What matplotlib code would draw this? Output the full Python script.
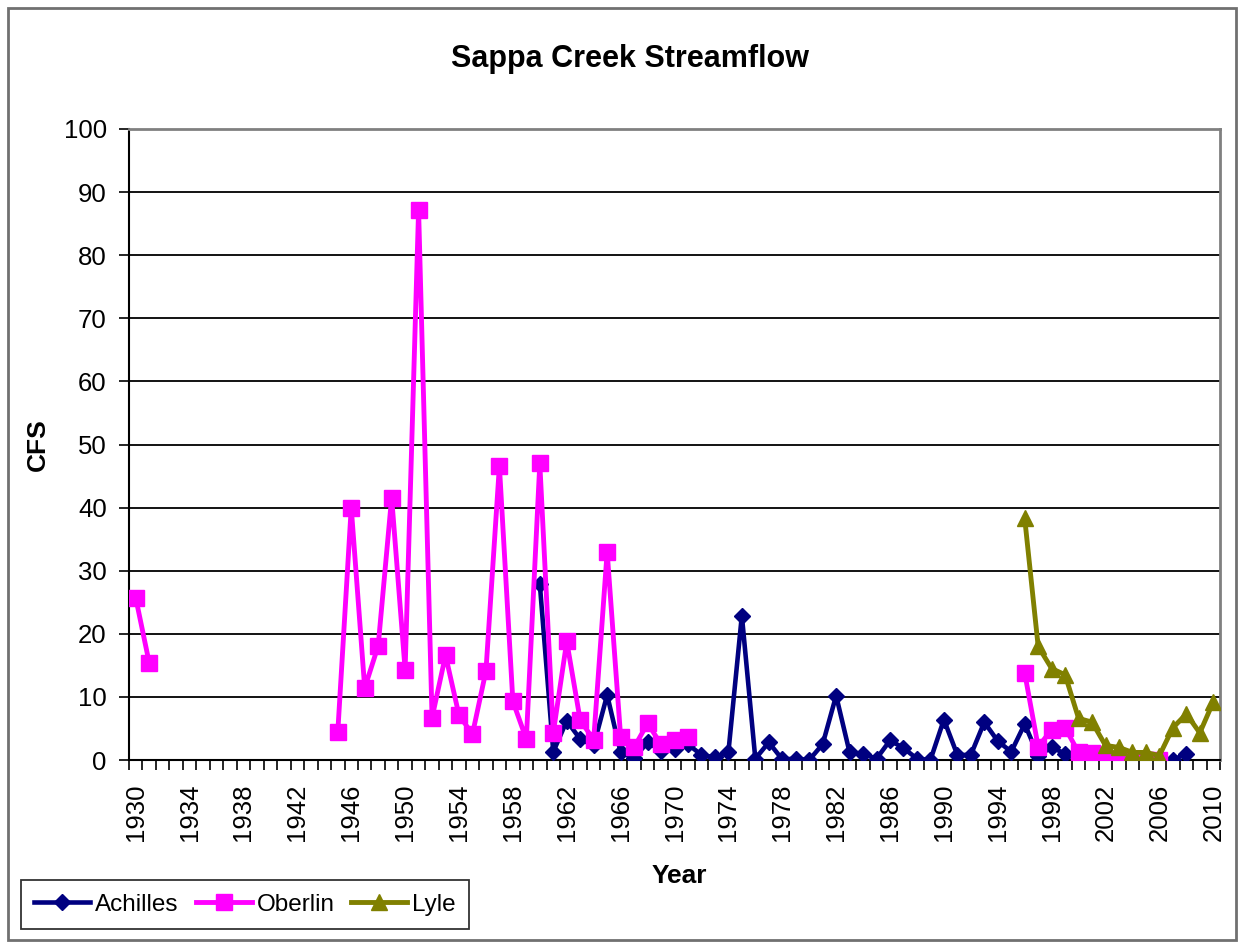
import numpy as np
import matplotlib
matplotlib.use('Agg')
import matplotlib.pyplot as plt
from matplotlib.patches import Rectangle
from matplotlib.ticker import MultipleLocator, FixedLocator

plt.rcParams['font.family'] = ['Liberation Sans', 'DejaVu Sans']

nan = np.nan

# years on the category axis
years = np.arange(1930, 2011)

# Achilles 1960-2008
achilles_years = np.arange(1960, 2009)
achilles_vals = [27.9, 1.3, 6.2, 3.3, 2.3, 10.3, 1.2, 0.3, 2.8, 1.5,
                 1.7, 2.5, 0.8, 0.4, 1.2, 22.9, 0.2, 2.8, 0.1, 0.2,
                 0.0, 2.5, 10.2, 1.2, 1.0, 0.2, 3.1, 1.9, 0.2, 0.0,
                 6.4, 0.8, 0.8, 6.0, 3.0, 1.3, 5.7, 0.7, 2.0, 1.0,
                 0.0, 0.2, 0.2, 0.2, 0.2, 0.2, 0.2, 0.0, 1.0]

# Oberlin 1930-1931, 1945-1971, 1996-2006 (gaps as NaN)
oberlin_years = np.arange(1930, 2007)
oberlin_vals = ([25.7, 15.4] + [nan] * 13 +
                [4.4, 40.0, 11.4, 18.1, 41.6, 14.3, 87.2, 6.7, 16.6, 7.1,
                 4.1, 14.1, 46.6, 9.3, 3.3, 47.0, 4.3, 18.8, 6.3, 3.2,
                 33.0, 3.7, 2.0, 5.8, 2.5, 3.1, 3.6] + [nan] * 24 +
                [13.8, 2.1, 4.8, 5.1, 1.2, 1.1, 0.0, 0.0, 0.0, 0.0, 0.0])

# Lyle 1996-2010
lyle_years = np.arange(1996, 2011)
lyle_vals = [38.3, 18.0, 14.5, 13.5, 6.6, 6.0, 2.3, 2.0, 1.2, 1.2,
             0.7, 5.1, 7.3, 4.3, 9.2]

label_years = np.arange(1930, 2011, 4)

fig = plt.figure(figsize=(12.44, 9.49), dpi=100)
ax = fig.add_axes([129 / 1244, 1 - 760 / 949, (1220 - 129) / 1244, (760 - 129) / 949])

ax.plot(achilles_years, achilles_vals, color='#000080', lw=3.3, marker='D',
        ms=8, label='Achilles', zorder=3)
ax.plot(oberlin_years, oberlin_vals, color='#FF00FF', lw=3.5, marker='s',
        ms=11, label='Oberlin', zorder=4)
ax.plot(lyle_years, lyle_vals, color='#808000', lw=3.5, marker='^',
        ms=11, label='Lyle', zorder=5)

ax.set_xlim(1929.5, 2010.5)
ax.set_ylim(0, 100)
ax.yaxis.set_major_locator(MultipleLocator(10))
ax.grid(axis='y', color='black', lw=1.3, zorder=1)
ax.set_axisbelow(True)

ax.xaxis.set_major_locator(FixedLocator(label_years))
ax.set_xticklabels([str(y) for y in label_years], rotation=90)
ax.xaxis.set_minor_locator(FixedLocator(np.arange(1929.5, 2011, 1)))
ax.tick_params(axis='x', which='major', length=0, labelsize=18.5, pad=17)
ax.tick_params(axis='x', which='minor', length=7, width=1.2, direction='out')
ax.tick_params(axis='y', length=7, width=1.2, direction='out', labelsize=18.5, pad=9)

for side in ['top', 'right']:
    ax.spines[side].set_color('#808080')
    ax.spines[side].set_linewidth(2)
for side in ['left', 'bottom']:
    ax.spines[side].set_color('black')
    ax.spines[side].set_linewidth(1.5)

fig.text(630 / 1244, 1 - 59 / 949, 'Sappa Creek Streamflow', fontsize=22,
         fontweight='bold', ha='center', va='center')
ax.set_ylabel('CFS', fontsize=19, fontweight='bold', labelpad=10)
fig.text(679 / 1244, 1 - 876 / 949, 'Year', fontsize=19, fontweight='bold',
         ha='center', va='center')

leg = fig.legend(loc='lower left', bbox_to_anchor=(21 / 1244, 1 - 929 / 949),
                 ncol=3, fontsize=17.5, frameon=True, fancybox=False,
                 edgecolor='black', handlelength=2.3, columnspacing=0.7,
                 handletextpad=0.2, borderpad=0.55, borderaxespad=0)
leg.get_frame().set_linewidth(1.3)

fig.patches.append(Rectangle((8 / 1244, 9 / 949), 1228 / 1244, 932 / 949,
                             transform=fig.transFigure, fill=False,
                             edgecolor='#707070', lw=2))

fig.savefig('out.png', dpi=100)
